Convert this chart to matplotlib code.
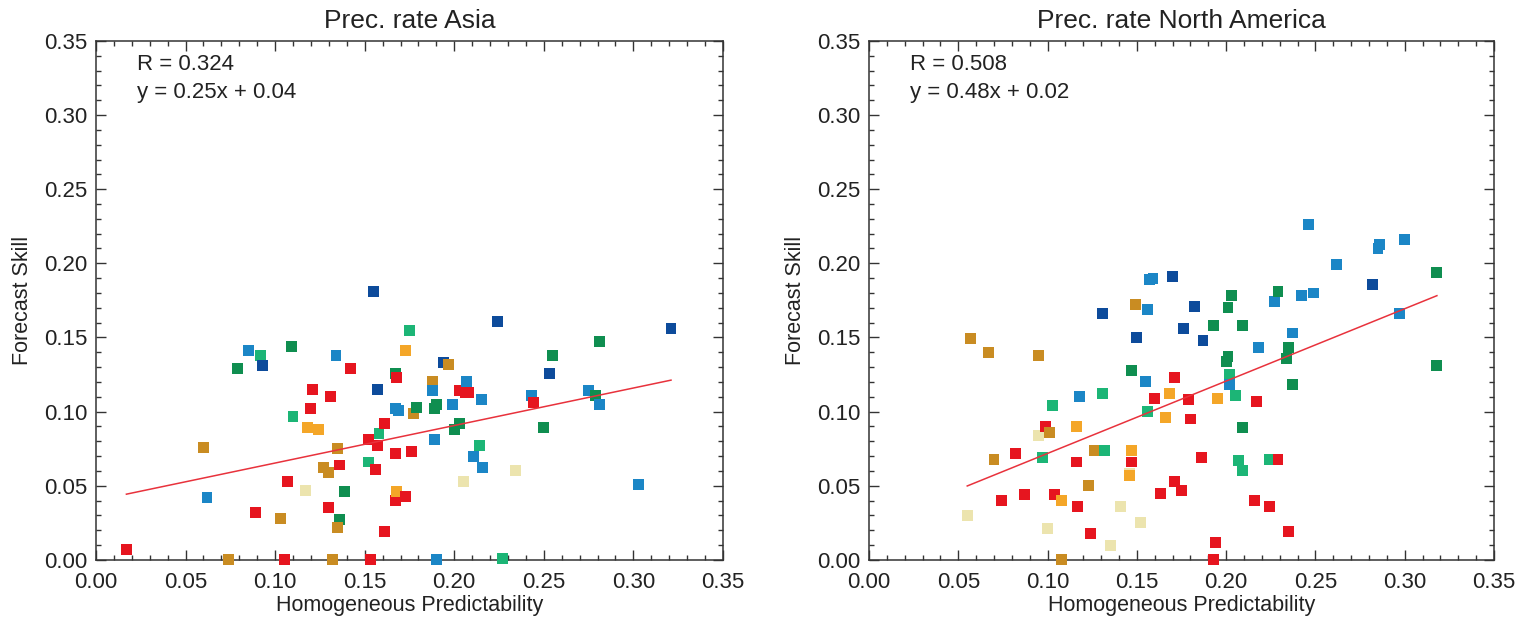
import numpy as np
import matplotlib
matplotlib.use('Agg')
import matplotlib.pyplot as plt
from matplotlib.ticker import MultipleLocator, FormatStrFormatter

plt.rcParams['font.family'] = ['Liberation Sans', 'DejaVu Sans']

# colour classes used for the squares
palette = {
    'red':   '#e6151f',
    'orange': '#f4a628',
    'gold':  '#c98c22',
    'cream': '#ece4ae',
    'teal':  '#1cb576',
    'green': '#0f8e50',
    'lblue': '#1b86c6',
    'dblue': '#0d4b9b',
}

# Panel 1: Asia
asia_x = [0.017, 0.060, 0.062, 0.074, 0.079, 0.085, 0.092, 0.093, 0.089, 0.103,
          0.105, 0.107, 0.109, 0.110, 0.117, 0.118, 0.124, 0.121, 0.120, 0.127,
          0.130, 0.130, 0.132, 0.131, 0.134, 0.135, 0.136, 0.136, 0.135, 0.139,
          0.142, 0.152, 0.153, 0.155, 0.152, 0.156, 0.157, 0.158, 0.157, 0.161,
          0.161, 0.167, 0.169, 0.167, 0.168, 0.167, 0.167, 0.168, 0.173, 0.176,
          0.175, 0.173, 0.177, 0.179, 0.188, 0.188, 0.189, 0.189, 0.190, 0.190,
          0.194, 0.197, 0.199, 0.200, 0.203, 0.203, 0.206, 0.208, 0.207, 0.205,
          0.214, 0.211, 0.215, 0.216, 0.224, 0.227, 0.234, 0.243, 0.244, 0.250,
          0.253, 0.255, 0.275, 0.279, 0.281, 0.281, 0.303, 0.321]
asia_y = [0.007, 0.076, 0.042, 0.000, 0.129, 0.141, 0.138, 0.131, 0.032, 0.028,
          0.000, 0.053, 0.144, 0.097, 0.047, 0.089, 0.088, 0.115, 0.102, 0.062,
          0.059, 0.035, 0.000, 0.110, 0.138, 0.075, 0.064, 0.027, 0.022, 0.046,
          0.129, 0.066, 0.000, 0.181, 0.081, 0.061, 0.115, 0.085, 0.077, 0.092,
          0.019, 0.102, 0.101, 0.126, 0.123, 0.072, 0.040, 0.046, 0.043, 0.073,
          0.155, 0.141, 0.099, 0.103, 0.120, 0.114, 0.081, 0.102, 0.105, 0.000,
          0.133, 0.132, 0.105, 0.088, 0.092, 0.114, 0.113, 0.113, 0.120, 0.053,
          0.077, 0.070, 0.108, 0.062, 0.161, 0.001, 0.060, 0.111, 0.106, 0.089,
          0.126, 0.138, 0.114, 0.111, 0.105, 0.147, 0.051, 0.156]
asia_c = ['red', 'gold', 'lblue', 'gold', 'green', 'lblue', 'teal', 'dblue', 'red', 'gold',
          'red', 'red', 'green', 'teal', 'cream', 'orange', 'orange', 'red', 'red', 'gold',
          'gold', 'red', 'gold', 'red', 'lblue', 'gold', 'red', 'green', 'gold', 'green',
          'red', 'teal', 'red', 'dblue', 'red', 'red', 'dblue', 'teal', 'red', 'red',
          'red', 'lblue', 'lblue', 'green', 'red', 'red', 'red', 'orange', 'red', 'red',
          'teal', 'orange', 'gold', 'green', 'gold', 'lblue', 'lblue', 'green', 'green', 'lblue',
          'dblue', 'gold', 'lblue', 'green', 'green', 'red', 'red', 'red', 'lblue', 'cream',
          'teal', 'lblue', 'lblue', 'lblue', 'dblue', 'teal', 'cream', 'lblue', 'red', 'green',
          'dblue', 'green', 'lblue', 'green', 'lblue', 'green', 'lblue', 'dblue']

# Panel 2: North America
nam_x = [0.055, 0.057, 0.067, 0.070, 0.074, 0.082, 0.087, 0.095, 0.095, 0.097,
         0.099, 0.101, 0.100, 0.103, 0.104, 0.108, 0.108, 0.116, 0.116, 0.117,
         0.118, 0.123, 0.124, 0.126, 0.131, 0.131, 0.132, 0.135, 0.141, 0.146,
         0.146, 0.147, 0.147, 0.147, 0.149, 0.150, 0.152, 0.155, 0.156, 0.157,
         0.159, 0.156, 0.160, 0.163, 0.166, 0.168, 0.170, 0.171, 0.171, 0.175,
         0.176, 0.179, 0.180, 0.182, 0.186, 0.187, 0.193, 0.194, 0.193, 0.195,
         0.200, 0.201, 0.201, 0.203, 0.202, 0.202, 0.205, 0.207, 0.209, 0.209,
         0.209, 0.216, 0.217, 0.218, 0.224, 0.224, 0.227, 0.229, 0.229, 0.235,
         0.234, 0.235, 0.237, 0.237, 0.242, 0.246, 0.249, 0.262, 0.282, 0.285,
         0.286, 0.297, 0.300, 0.318, 0.318]
nam_y = [0.030, 0.149, 0.140, 0.068, 0.040, 0.072, 0.044, 0.138, 0.084, 0.069,
         0.090, 0.086, 0.021, 0.104, 0.044, 0.040, 0.000, 0.090, 0.066, 0.036,
         0.110, 0.050, 0.018, 0.074, 0.166, 0.112, 0.074, 0.010, 0.036, 0.058,
         0.057, 0.074, 0.066, 0.128, 0.172, 0.150, 0.025, 0.120, 0.100, 0.189,
         0.190, 0.169, 0.109, 0.045, 0.096, 0.112, 0.191, 0.123, 0.053, 0.047,
         0.156, 0.108, 0.095, 0.171, 0.069, 0.148, 0.158, 0.012, 0.000, 0.109,
         0.134, 0.137, 0.170, 0.178, 0.125, 0.118, 0.111, 0.067, 0.060, 0.089,
         0.158, 0.040, 0.107, 0.143, 0.036, 0.068, 0.174, 0.181, 0.068, 0.019,
         0.136, 0.143, 0.153, 0.118, 0.178, 0.226, 0.180, 0.199, 0.186, 0.210,
         0.213, 0.166, 0.216, 0.194, 0.131]
nam_c = ['cream', 'gold', 'gold', 'gold', 'red', 'red', 'red', 'gold', 'cream', 'teal',
         'red', 'gold', 'cream', 'teal', 'red', 'orange', 'gold', 'orange', 'red', 'red',
         'lblue', 'gold', 'red', 'gold', 'dblue', 'teal', 'teal', 'cream', 'cream', 'cream',
         'orange', 'orange', 'red', 'green', 'gold', 'dblue', 'cream', 'lblue', 'teal', 'lblue',
         'lblue', 'lblue', 'red', 'red', 'orange', 'orange', 'dblue', 'red', 'red', 'red',
         'dblue', 'red', 'red', 'dblue', 'red', 'dblue', 'green', 'red', 'red', 'orange',
         'green', 'green', 'green', 'green', 'teal', 'lblue', 'teal', 'teal', 'teal', 'green',
         'green', 'red', 'red', 'lblue', 'red', 'teal', 'lblue', 'green', 'red', 'red',
         'green', 'green', 'lblue', 'green', 'lblue', 'lblue', 'lblue', 'lblue', 'dblue', 'lblue',
         'lblue', 'lblue', 'lblue', 'green', 'green']

titles = ['Prec. rate Asia', 'Prec. rate North America']
r_values = ['R = 0.324', 'R = 0.508']
fit_text = ['y = 0.25x + 0.04', 'y = 0.48x + 0.02']
fit_slope = [0.253, 0.488]
fit_icpt = [0.040, 0.023]

panels = [(asia_x, asia_y, asia_c), (nam_x, nam_y, nam_c)]
positions = [[0.063, 0.097, 0.4117, 0.837], [0.5706, 0.097, 0.4104, 0.837]]

fig = plt.figure(figsize=(15.23, 6.2), dpi=100)

for i, (xs, ys, cs) in enumerate(panels):
    ax = fig.add_axes(positions[i])
    ax.scatter(xs, ys, c=[palette[k] for k in cs], marker='s', s=62,
               linewidths=0, clip_on=False, zorder=3)

    # regression line over the data range
    xl = np.array([min(xs), max(xs)])
    ax.plot(xl, fit_slope[i] * xl + fit_icpt[i], color='#e8323c', lw=1.1, zorder=4)

    ax.set_xlim(0, 0.35)
    ax.set_ylim(0, 0.35)
    ax.xaxis.set_major_locator(MultipleLocator(0.05))
    ax.yaxis.set_major_locator(MultipleLocator(0.05))
    ax.xaxis.set_minor_locator(MultipleLocator(0.01))
    ax.yaxis.set_minor_locator(MultipleLocator(0.01))
    ax.xaxis.set_major_formatter(FormatStrFormatter('%.2f'))
    ax.yaxis.set_major_formatter(FormatStrFormatter('%.2f'))
    ax.tick_params(which='both', direction='in', top=True, right=True,
                   color='#333333', labelsize=16, labelcolor='#222222')
    ax.tick_params(which='major', length=7, width=1)
    ax.tick_params(which='minor', length=3.5, width=1)
    ax.tick_params(axis='x', pad=9)
    ax.tick_params(axis='y', pad=6)
    for sp in ax.spines.values():
        sp.set_color('#333333')
        sp.set_linewidth(1.1)

    ax.set_title(titles[i], fontsize=19, pad=9, color='#222222')
    ax.set_xlabel('Homogeneous Predictability', fontsize=15.5, labelpad=1, color='#222222')
    ax.set_ylabel('Forecast Skill', fontsize=15.5, labelpad=8, color='#222222')
    ax.text(0.066, 0.955, r_values[i], transform=ax.transAxes, fontsize=16,
            va='center', ha='left', color='#222222')
    ax.text(0.066, 0.901, fit_text[i], transform=ax.transAxes, fontsize=16,
            va='center', ha='left', color='#222222')

fig.savefig('out.png', dpi=100)
